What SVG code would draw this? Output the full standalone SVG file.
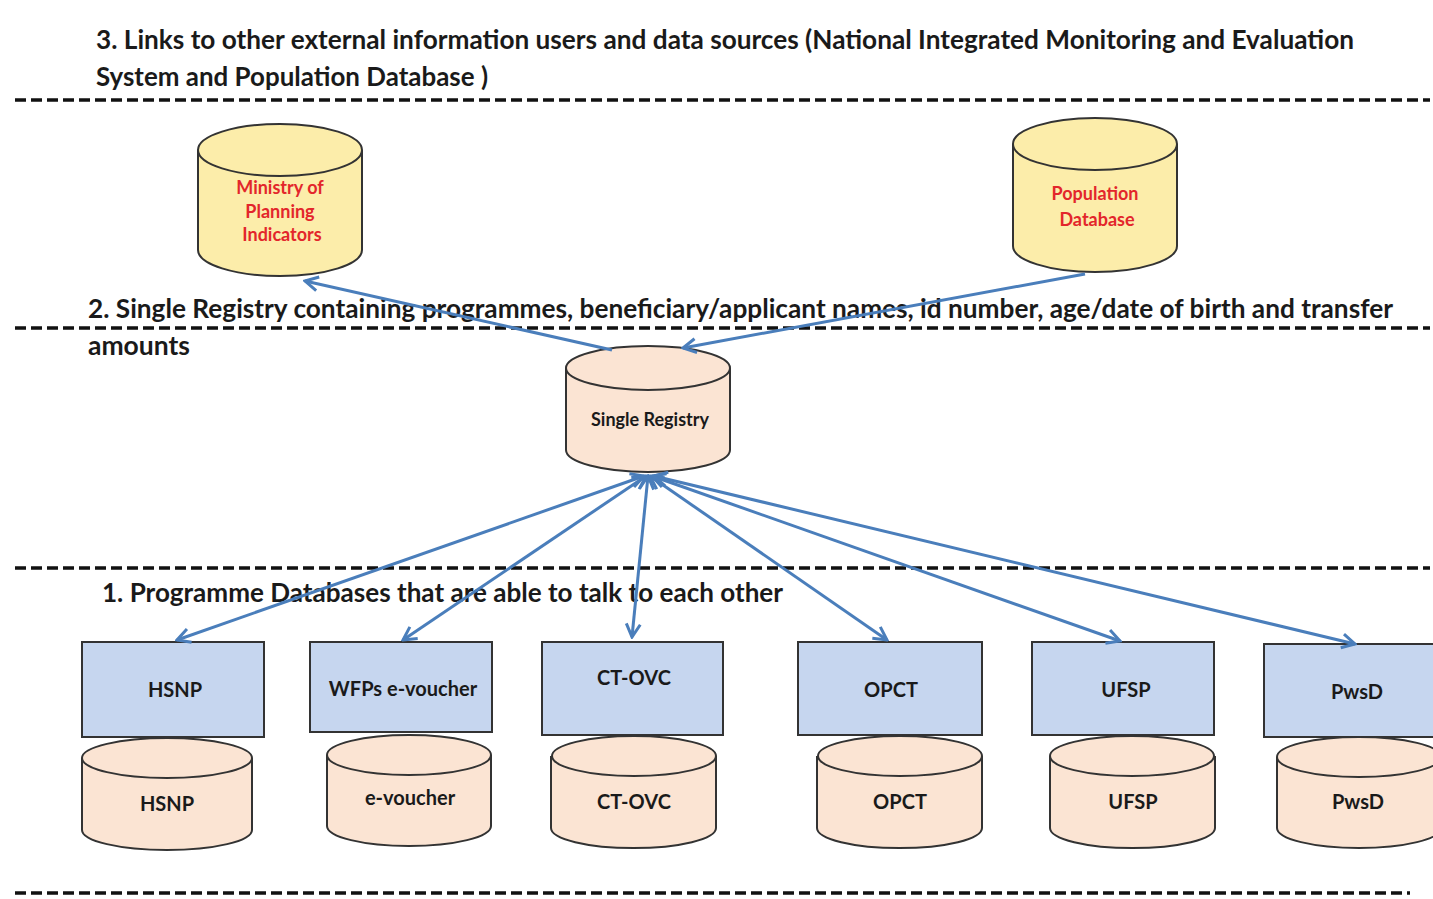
<svg xmlns="http://www.w3.org/2000/svg" width="1433" height="899" viewBox="0 0 1433 899">
<defs>
<style>
.dash{stroke:#111;stroke-width:3.5;stroke-dasharray:11 5;fill:none}
.hdr{font-family:Lato,"Liberation Sans",sans-serif;font-size:26px;font-weight:bold;fill:#1a1a1a}
.lbl{font-family:Lato,"Liberation Sans",sans-serif;font-size:20px;font-weight:bold;fill:#1a1a1a;text-anchor:middle}
.red{font-family:Lato,"Liberation Sans",sans-serif;font-size:18px;font-weight:bold;fill:#e3262b;text-anchor:middle}
.box{fill:#c6d6ef;stroke:#333;stroke-width:2}
.peach{fill:#fbe4d3;stroke:#333;stroke-width:2}
.yel{fill:#fcedaa;stroke:#333;stroke-width:2}
.conn{stroke:#4a7ebb;stroke-width:3;fill:none}
</style>
<marker id="ah" viewBox="-15 -9 17 18" refX="0" refY="0" markerWidth="17" markerHeight="18" markerUnits="userSpaceOnUse" orient="auto-start-reverse">
<path d="M-13,-7 L0,0 L-13,7" fill="none" stroke="#4a7ebb" stroke-width="3"/>
</marker>
</defs>
<rect width="1433" height="899" fill="#fff"/>

<g id="dividers">
<line class="dash" x1="15" y1="100" x2="1430" y2="100"/>
<line class="dash" x1="15" y1="328" x2="1430" y2="328"/>
<line class="dash" x1="15" y1="568" x2="1430" y2="568"/>
<line class="dash" x1="15" y1="893" x2="1410" y2="893"/>
</g>

<g id="headings">
<text class="hdr" x="96" y="49" textLength="1258" lengthAdjust="spacingAndGlyphs">3.  Links to other external information users and data sources (National Integrated Monitoring and Evaluation</text>
<text class="hdr" x="96" y="86" textLength="392" lengthAdjust="spacingAndGlyphs">System and Population Database )</text>
<text class="hdr" x="88" y="318" textLength="1305" lengthAdjust="spacingAndGlyphs">2. Single Registry containing programmes, beneficiary/applicant names, id number, age/date of birth and transfer</text>
<text class="hdr" x="88" y="355" textLength="102" lengthAdjust="spacingAndGlyphs">amounts</text>
<text class="hdr" x="102" y="602" textLength="681" lengthAdjust="spacingAndGlyphs">1. Programme Databases that are able to talk to each other</text>
</g>

<g id="ministry">
<path class="yel" d="M198,150 V250 A82,26 0 0 0 362,250 V150"/>
<ellipse class="yel" cx="280" cy="150" rx="82" ry="26"/>
<text class="red" x="280" y="194">Ministry of</text>
<text class="red" x="280" y="218">Planning</text>
<text class="red" x="282" y="241">Indicators</text>
</g>

<g id="population">
<path class="yel" d="M1013,144 V246 A82,26 0 0 0 1177,246 V144"/>
<ellipse class="yel" cx="1095" cy="144" rx="82" ry="26"/>
<text class="red" x="1095" y="200">Population</text>
<text class="red" x="1097" y="226">Database</text>
</g>

<g id="single-registry">
<path class="peach" d="M566,368 V450 A82,22 0 0 0 730,450 V368"/>
<ellipse class="peach" cx="648" cy="368" rx="82" ry="22"/>
<text class="lbl" x="650" y="426" style="font-size:18px">Single Registry</text>
</g>

<g id="hsnp">
<rect class="box" x="82" y="642" width="182" height="95"/>
<text class="lbl" x="175" y="697">HSNP</text>
<path class="peach" d="M82,758 V830 A85,20 0 0 0 252,830 V758"/>
<ellipse class="peach" cx="167" cy="758" rx="85" ry="20"/>
<text class="lbl" x="167" y="811">HSNP</text>
</g>

<g id="wfp">
<rect class="box" x="310" y="642" width="182" height="90"/>
<text class="lbl" x="403" y="696">WFPs e-voucher</text>
<path class="peach" d="M327,755 V826 A82,20 0 0 0 491,826 V755"/>
<ellipse class="peach" cx="409" cy="755" rx="82" ry="20"/>
<text class="lbl" x="410" y="805">e-voucher</text>
</g>

<g id="ctovc">
<rect class="box" x="542" y="642" width="181" height="93"/>
<text class="lbl" x="634" y="685">CT-OVC</text>
<path class="peach" d="M551,756 V828 A82,20 0 0 0 716,828 V756"/>
<ellipse class="peach" cx="634" cy="756" rx="82" ry="20"/>
<text class="lbl" x="634" y="809">CT-OVC</text>
</g>

<g id="opct">
<rect class="box" x="798" y="642" width="184" height="93"/>
<text class="lbl" x="891" y="697">OPCT</text>
<path class="peach" d="M817,756 V828 A82,20 0 0 0 982,828 V756"/>
<ellipse class="peach" cx="900" cy="756" rx="82" ry="20"/>
<text class="lbl" x="900" y="809">OPCT</text>
</g>

<g id="ufsp">
<rect class="box" x="1032" y="642" width="182" height="93"/>
<text class="lbl" x="1126" y="697">UFSP</text>
<path class="peach" d="M1050,756 V828 A82,20 0 0 0 1215,828 V756"/>
<ellipse class="peach" cx="1132" cy="756" rx="82" ry="20"/>
<text class="lbl" x="1133" y="809">UFSP</text>
</g>

<g id="pwsd">
<rect class="box" x="1264" y="644" width="180" height="93"/>
<text class="lbl" x="1357" y="699">PwsD</text>
<path class="peach" d="M1277,757 V828 A82,20 0 0 0 1441,828 V757"/>
<ellipse class="peach" cx="1359" cy="757" rx="82" ry="20"/>
<text class="lbl" x="1358" y="809">PwsD</text>
</g>

<g id="connectors">
<line class="conn" x1="612" y1="350" x2="305" y2="281" marker-end="url(#ah)"/>
<line class="conn" x1="1085" y1="274" x2="683" y2="348" marker-end="url(#ah)"/>
<line class="conn" x1="644" y1="476" x2="177" y2="640" marker-start="url(#ah)" marker-end="url(#ah)"/>
<line class="conn" x1="646" y1="476" x2="403" y2="640" marker-start="url(#ah)" marker-end="url(#ah)"/>
<line class="conn" x1="648" y1="476" x2="632" y2="637" marker-start="url(#ah)" marker-end="url(#ah)"/>
<line class="conn" x1="650" y1="476" x2="887" y2="640" marker-start="url(#ah)" marker-end="url(#ah)"/>
<line class="conn" x1="652" y1="476" x2="1120" y2="641" marker-start="url(#ah)" marker-end="url(#ah)"/>
<line class="conn" x1="654" y1="476" x2="1355" y2="644" marker-start="url(#ah)" marker-end="url(#ah)"/>
</g>
</svg>
